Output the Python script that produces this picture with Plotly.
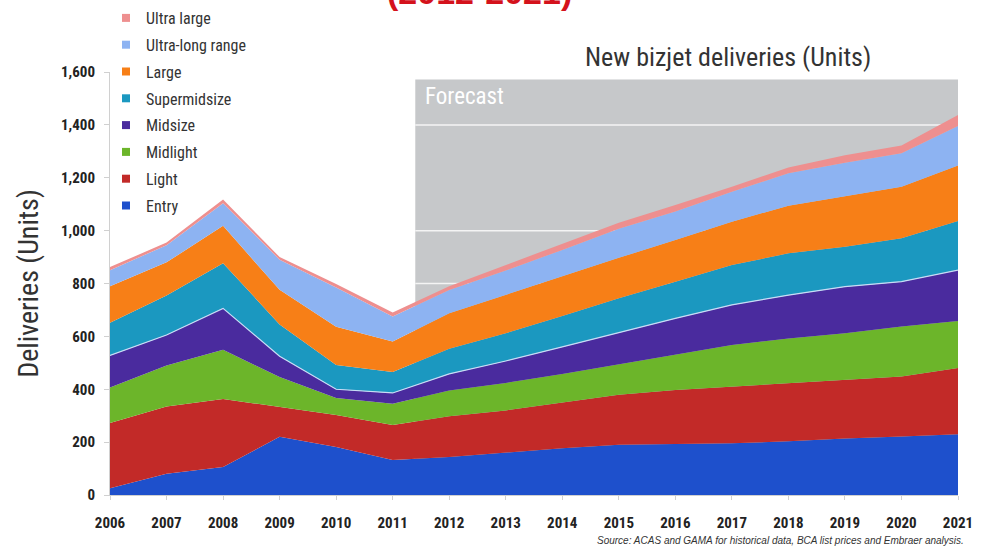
import plotly.graph_objects as go

years = list(range(2006, 2022))

entry = [26, 80, 106, 220, 182, 132, 144, 160, 177, 190, 193, 196, 203, 214, 221, 230]
light = [246, 255, 257, 113, 121, 133, 154, 160, 173, 189, 204, 214, 219, 221, 227, 250]
midlight = [135, 155, 186, 113, 64, 80, 97, 104, 108, 116, 133, 157, 170, 177, 189, 178]
midsize = [121, 115, 157, 79, 33, 41, 63, 83, 102, 120, 138, 152, 164, 176, 170, 193]
supermidsize = [124, 150, 171, 120, 92, 79, 95, 105, 117, 129, 139, 151, 158, 151, 164, 185]
large = [138, 125, 141, 131, 144, 116, 134, 145, 152, 153, 158, 164, 180, 190, 195, 210]
ultra_long = [60, 65, 86, 114, 149, 94, 88, 92, 98, 110, 107, 113, 123, 128, 127, 150]
ultra_large = [12, 10, 14, 10, 13, 15, 15, 21, 24, 23, 25, 19, 22, 28, 29, 41]

series_names = ["Entry", "Light", "Midlight", "Midsize", "Supermidsize", "Large",
                "Ultra-long range", "Ultra large"]
series_values = [entry, light, midlight, midsize, supermidsize, large, ultra_long, ultra_large]
colors = ["#1e50cc", "#c22a28", "#6cb52a", "#4a2b9e", "#1b98c0", "#f77f17", "#8db3f2", "#ee8f8f"]

forecast_start = 2011.4
gridlines_forecast = [800, 1000, 1400]
ytick_vals = [0, 200, 400, 600, 800, 1000, 1200, 1400, 1600]

NARROW = "Liberation Sans Narrow, Roboto Condensed, DejaVu Sans Condensed, Arial Narrow, sans-serif"

fig = go.Figure()

for name, vals, col in zip(series_names, series_values, colors):
    line = dict(width=0, color=col)
    if name == "Midsize":
        line = dict(width=1.2, color="#c9dcf6")
    fig.add_trace(go.Scatter(
        x=years, y=vals, name=name, mode="lines", stackgroup="one",
        fillcolor=col, line=line, showlegend=False, legendgroup=name,
        hovertemplate=name + ": %{y}<extra></extra>"))

# legend entries (top to bottom)
for name, col in reversed(list(zip(series_names, colors))):
    fig.add_trace(go.Scatter(
        x=[None], y=[None], mode="markers", name=name, legendgroup=name,
        marker=dict(symbol="square", size=8, color=col), showlegend=True))

# forecast shading
fig.add_shape(type="rect", xref="x", yref="y", x0=forecast_start, x1=2021,
              y0=0, y1=1572, fillcolor="#c6c8ca", line=dict(width=0), layer="below")
for g in gridlines_forecast:
    fig.add_shape(type="line", xref="x", yref="y", x0=forecast_start, x1=2021,
                  y0=g, y1=g, line=dict(color="#f4f4f4", width=1.5), layer="below")

fig.add_annotation(text="Forecast", xref="x", yref="paper", x=forecast_start, y=1 - (97 - 72) / 423,
                   xanchor="left", yanchor="middle", xshift=8, showarrow=False,
                   font=dict(family=NARROW, size=23, color="white"))
fig.add_annotation(text="New bizjet deliveries (Units)", xref="paper", yref="paper",
                   x=(728 - 110) / 848, y=1 + (72 - 57) / 423, xanchor="center", yanchor="middle",
                   showarrow=False, font=dict(family=NARROW, size=26, color="#333333"))
fig.add_annotation(text="<b>(2012-2021)</b>", xref="paper", yref="paper",
                   x=(479 - 110) / 848, y=1 + (72 + 8) / 423, xanchor="center", yanchor="middle",
                   showarrow=False, font=dict(family="Liberation Sans, Arial, sans-serif", size=34, color="#d4121c"))
fig.add_annotation(text="<i>Source: ACAS and GAMA for historical data, BCA list prices and Embraer analysis.</i>",
                   xref="paper", yref="paper", x=(966 - 110) / 848, y=-(540 - 495) / 423,
                   xanchor="right", yanchor="middle", showarrow=False,
                   font=dict(family="Liberation Sans, Arial, sans-serif", size=10, color="#333333"))

fig.update_layout(
    width=986, height=546,
    margin=dict(l=110, r=28, t=72, b=51, autoexpand=False),
    paper_bgcolor="white", plot_bgcolor="white",
    font=dict(family=NARROW, color="#222222"),
    legend=dict(x=-4 / 848, y=1 + (72 - 1) / 423, xanchor="left", yanchor="top",
                font=dict(family=NARROW, size=16, color="#333333"),
                bgcolor="rgba(0,0,0,0)", tracegroupgap=3, traceorder="grouped",
                itemclick=False, itemdoubleclick=False),
    showlegend=True,
)
fig.update_xaxes(range=[2006, 2021], tickvals=years, ticktext=[str(y) for y in years],
                 showgrid=False, zeroline=False, showline=True, linecolor="#d0d0d0", linewidth=1,
                 ticks="outside", ticklen=4, tickcolor="#d0d0d0", ticklabelstandoff=10,
                 tickfont=dict(family=NARROW, size=15, color="#222222", weight="bold"))
fig.update_yaxes(range=[0, 1600], tickvals=ytick_vals, tickformat=",",
                 showgrid=False, zeroline=False, showline=True, linecolor="#d0d0d0", linewidth=1,
                 ticks="outside", ticklen=5, tickcolor="#d0d0d0", ticklabelstandoff=6,
                 tickfont=dict(family=NARROW, size=15, color="#222222", weight="bold"),
                 title=dict(text="Deliveries (Units)", standoff=14,
                            font=dict(family=NARROW, size=28, color="#333333")))

fig.write_html("out.html")
